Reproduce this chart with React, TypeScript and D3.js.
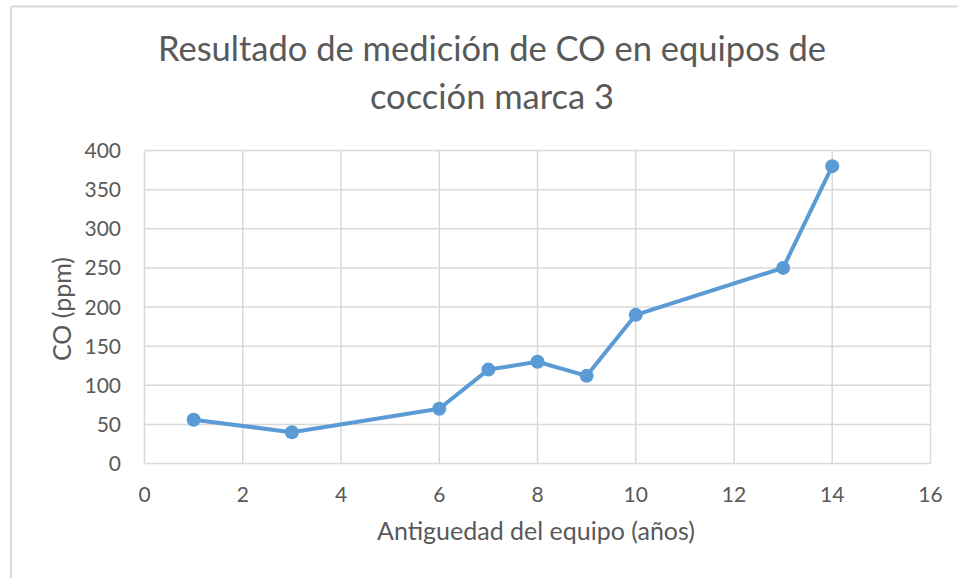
import React from "react";
import * as d3 from "d3";

const xValues = [1, 3, 6, 7, 8, 9, 10, 13, 14];
const coValues = [56, 40, 70, 120, 130, 112, 190, 250, 380];
const xTicks = [0, 2, 4, 6, 8, 10, 12, 14, 16];
const yTicks = [0, 50, 100, 150, 200, 250, 300, 350, 400];
const titleLines = ["Resultado de medición de CO en equipos de", "cocción marca 3"];
const xTitle = "Antiguedad del equipo (años)";
const yTitle = "CO (ppm)";

const W = 958;
const H = 578;
const FONT = "Lato, 'Open Sans', sans-serif";
const TEXT = "#595959";
const GRID = "#d9d9d9";
const BLUE = "#5b9bd5";

export default function App() {
  const left = 144.5, right = 930.5, top = 150.5, bottom = 463.5;
  const x = d3.scaleLinear().domain([0, 16]).range([left, right]);
  const y = d3.scaleLinear().domain([0, 400]).range([bottom, top]);
  const pts = xValues.map((v, i) => [v, coValues[i]] as [number, number]);
  const line = d3.line<[number, number]>().x(d => x(d[0])).y(d => y(d[1]));

  return (
    <svg width={W} height={H} style={{ position: "absolute", left: 0, top: 0, background: "#fff" }} fontFamily={FONT}>
      <rect x={0} y={0} width={W} height={H} fill="#fff" />
      {/* chart border */}
      <line x1={11} y1={6.5} x2={W} y2={6.5} stroke={GRID} strokeWidth={2} />
      <line x1={11} y1={6.5} x2={11} y2={H} stroke={GRID} strokeWidth={2} />
      {/* title */}
      {titleLines.map((t, i) => (
        <text key={i} x={492} y={61 + i * 48} textAnchor="middle" fontSize={34.5} fill={TEXT}>{t}</text>
      ))}
      {/* grid */}
      {yTicks.map(t => (
        <line key={"gy" + t} x1={left} x2={right} y1={y(t)} y2={y(t)} stroke={GRID} strokeWidth={1.5} />
      ))}
      {xTicks.map(t => (
        <line key={"gx" + t} x1={x(t)} x2={x(t)} y1={top} y2={bottom} stroke={GRID} strokeWidth={1.5} />
      ))}
      {/* tick labels */}
      {yTicks.map(t => (
        <text key={"ly" + t} x={121} y={y(t)} dy="0.36em" textAnchor="end" fontSize={21} fill={TEXT}>{t}</text>
      ))}
      {xTicks.map(t => (
        <text key={"lx" + t} x={x(t)} y={502} textAnchor="middle" fontSize={21} fill={TEXT}>{t}</text>
      ))}
      {/* axis titles */}
      <text x={536} y={540} textAnchor="middle" fontSize={25} fill={TEXT}>{xTitle}</text>
      <text transform={`translate(71,309) rotate(-90)`} textAnchor="middle" fontSize={25} fill={TEXT}>{yTitle}</text>
      {/* series */}
      <path d={line(pts) || ""} fill="none" stroke={BLUE} strokeWidth={4} strokeLinejoin="round" />
      {pts.map((p, i) => (
        <circle key={i} cx={x(p[0])} cy={y(p[1])} r={7} fill={BLUE} />
      ))}
    </svg>
  );
}
